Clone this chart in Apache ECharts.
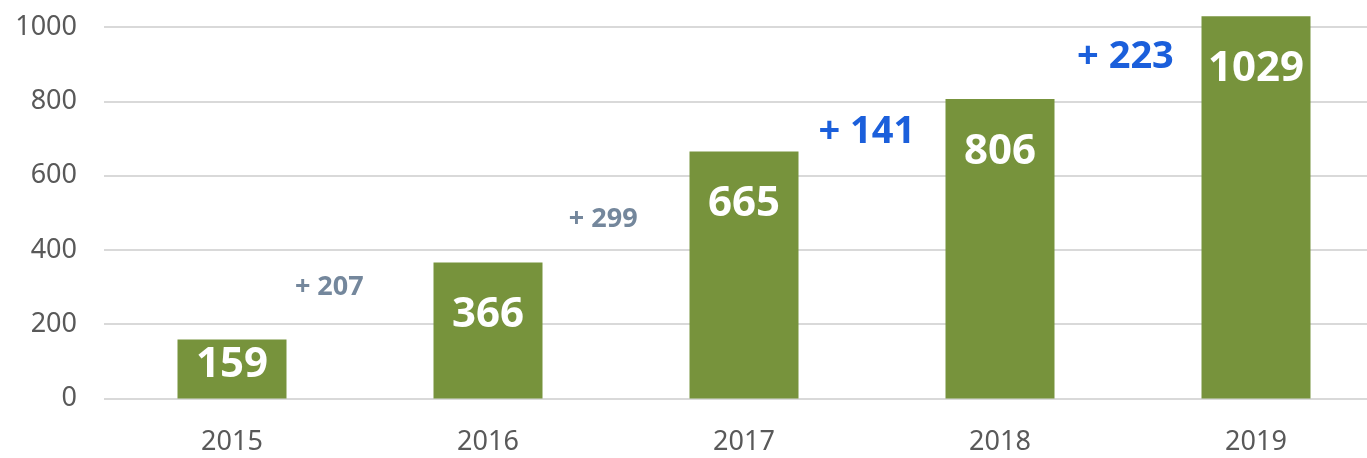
<!DOCTYPE html>
<html>
<head>
<meta charset="utf-8">
<script src="https://cdn.jsdelivr.net/npm/echarts@6/dist/echarts.min.js"></script>
<style>
  html, body { margin: 0; padding: 0; background: #fff; overflow: hidden; }
  /* wider than the window: the last bar's slot runs past the right edge */
  #myChart { width: 1400px; height: 458px; }
</style>
</head>
<body>
<div id="myChart"></div>
<script>
// data
const years = ['2015', '2016', '2017', '2018', '2019'];
const totals = [159, 366, 665, 806, 1029];
const yTicks = [0, 200, 400, 600, 800, 1000];

// growth notes between the bars
const growth = [207, 299, 141, 223];
const growthX = [0.38, 1.45, 2.48, 3.49];   // in category units
const growthY = [300, 481, 716, 920];
const growthColor = ['#74879c', '#74879c', '#1b5fdb', '#1b5fdb'];
const growthSize = [27, 27, 38, 38];

const font = '"Noto Sans", sans-serif';

const myChart = echarts.init(document.getElementById('myChart'));

const barData = totals.map(function (v) {
    const item = { value: v };
    // the short first bar keeps its label near the top edge
    if (v < 200) item.label = { distance: 5 };
    return item;
});

const noteData = growth.map(function (g, i) {
    return {
        value: [growthX[i], growthY[i]],
        label: {
            formatter: '+ ' + g,
            color: growthColor[i],
            fontSize: growthSize[i]
        }
    };
});

const option = {
    animation: false,
    grid: { left: 104, right: 16, top: 27, bottom: 59.5 },
    xAxis: [
        {
            type: 'category',
            data: years,
            axisLine: { show: false },
            axisTick: { show: false },
            axisLabel: { color: '#595959', fontSize: 27, fontFamily: font, margin: 30 }
        },
        {
            type: 'value',
            min: -0.5,
            max: 4.5,
            show: false
        }
    ],
    yAxis: {
        type: 'value',
        min: yTicks[0],
        max: yTicks[yTicks.length - 1],
        interval: 200,
        axisLine: { show: false },
        axisTick: { show: false },
        axisLabel: {
            color: '#595959', fontSize: 27, fontFamily: font, margin: 27,
            formatter: function (v) { return String(v); }
        },
        splitLine: { lineStyle: { color: '#d9d9d9', width: 2 } }
    },
    series: [
        {
            type: 'bar',
            data: barData,
            barWidth: 109,
            clip: false,
            itemStyle: { color: '#77933c' },
            label: {
                show: true,
                position: 'insideTop',
                distance: 32,
                color: '#fff',
                fontSize: 42,
                fontWeight: 'bold',
                fontFamily: font
            }
        },
        {
            type: 'scatter',
            xAxisIndex: 1,
            data: noteData,
            symbolSize: 0,
            itemStyle: { opacity: 1 },
            label: {
                show: true,
                position: 'inside',
                fontWeight: 'bold',
                fontFamily: font
            }
        }
    ]
};

myChart.setOption(option);
</script>
</body>
</html>
